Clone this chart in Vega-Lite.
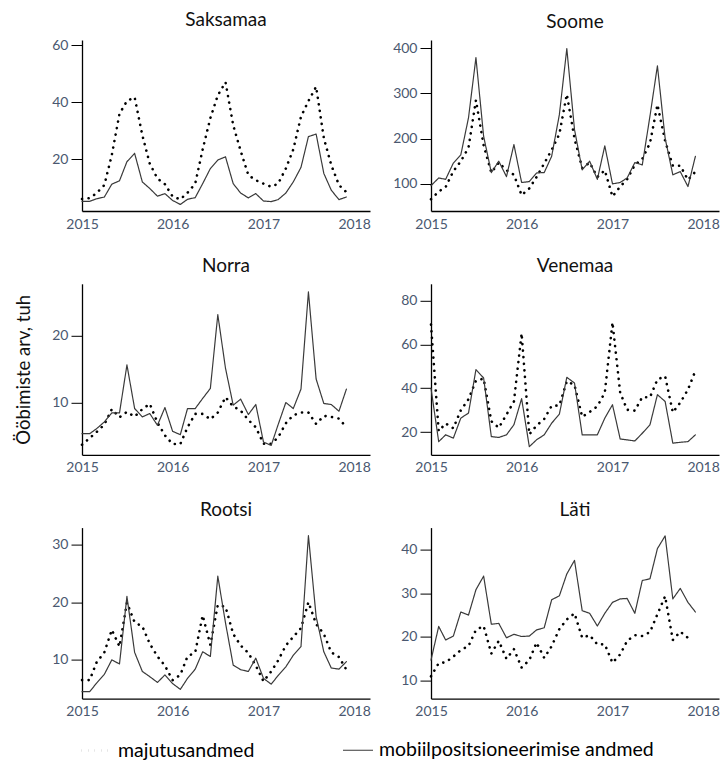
{
"$schema": "https://vega.github.io/schema/vega-lite/v6.json",
"padding": {"left": 14, "top": 11, "right": 0, "bottom": 0},
"bounds": "flush",
"columns": 2,
"spacing": {"row": 72.8, "column": 61},
"config": {
  "font": "Lato",
  "view": {"stroke": null},
  "title": {"fontSize": 19, "fontWeight": "normal", "color": "#111111", "offset": 8, "frame": "group", "anchor": "middle"},
  "axis": {"labelFont": "Lato", "labelFontSize": 14, "labelColor": "#4a5870", "domainColor": "#000000", "domainWidth": 1.3, "tickColor": "#000000", "tickWidth": 1, "grid": false, "titleFont": "Lato", "titleFontWeight": "normal", "titleColor": "#111111", "titleFontSize": 18.5},
  "axisX": {"ticks": false, "labelPadding": 6, "labelFlush": false},
  "axisY": {"tickSize": 11, "labelPadding": 3},
  "legend": {"orient": "bottom", "direction": "horizontal", "symbolType": "stroke", "symbolSize": 900, "symbolStrokeWidth": 2.6, "labelFont": "Lato", "labelFontSize": 19.5, "labelColor": "#000000", "labelLimit": 600, "columnPadding": 85, "offset": 15, "title": null, "labelOffset": 5, "layout": {"bottom": {"anchor": "middle", "bounds": "flush"}}}
},
"datasets": {"rows": [
{"p":"Saksamaa","s":"majutusandmed","d":"2015-01-01","v":6.1},{"p":"Saksamaa","s":"majutusandmed","d":"2015-02-01","v":6.4},{"p":"Saksamaa","s":"majutusandmed","d":"2015-03-01","v":8.2},{"p":"Saksamaa","s":"majutusandmed","d":"2015-04-01","v":11.0},{"p":"Saksamaa","s":"majutusandmed","d":"2015-05-01","v":21.5},{"p":"Saksamaa","s":"majutusandmed","d":"2015-06-01","v":36.0},{"p":"Saksamaa","s":"majutusandmed","d":"2015-07-01","v":40.5},{"p":"Saksamaa","s":"majutusandmed","d":"2015-08-01","v":41.8},{"p":"Saksamaa","s":"majutusandmed","d":"2015-09-01","v":28.5},{"p":"Saksamaa","s":"majutusandmed","d":"2015-10-01","v":18.5},{"p":"Saksamaa","s":"majutusandmed","d":"2015-11-01","v":13.3},{"p":"Saksamaa","s":"majutusandmed","d":"2015-12-01","v":11.3},
{"p":"Saksamaa","s":"majutusandmed","d":"2016-01-01","v":7.0},{"p":"Saksamaa","s":"majutusandmed","d":"2016-02-01","v":6.0},{"p":"Saksamaa","s":"majutusandmed","d":"2016-03-01","v":8.3},{"p":"Saksamaa","s":"majutusandmed","d":"2016-04-01","v":11.5},{"p":"Saksamaa","s":"majutusandmed","d":"2016-05-01","v":23.5},{"p":"Saksamaa","s":"majutusandmed","d":"2016-06-01","v":34.5},{"p":"Saksamaa","s":"majutusandmed","d":"2016-07-01","v":42.5},{"p":"Saksamaa","s":"majutusandmed","d":"2016-08-01","v":47.1},{"p":"Saksamaa","s":"majutusandmed","d":"2016-09-01","v":32.0},{"p":"Saksamaa","s":"majutusandmed","d":"2016-10-01","v":23.0},{"p":"Saksamaa","s":"majutusandmed","d":"2016-11-01","v":14.5},{"p":"Saksamaa","s":"majutusandmed","d":"2016-12-01","v":12.7},
{"p":"Saksamaa","s":"majutusandmed","d":"2017-01-01","v":11.5},{"p":"Saksamaa","s":"majutusandmed","d":"2017-02-01","v":10.4},{"p":"Saksamaa","s":"majutusandmed","d":"2017-03-01","v":11.5},{"p":"Saksamaa","s":"majutusandmed","d":"2017-04-01","v":16.8},{"p":"Saksamaa","s":"majutusandmed","d":"2017-05-01","v":23.5},{"p":"Saksamaa","s":"majutusandmed","d":"2017-06-01","v":35.0},{"p":"Saksamaa","s":"majutusandmed","d":"2017-07-01","v":40.5},{"p":"Saksamaa","s":"majutusandmed","d":"2017-08-01","v":45.5},{"p":"Saksamaa","s":"majutusandmed","d":"2017-09-01","v":27.5},{"p":"Saksamaa","s":"majutusandmed","d":"2017-10-01","v":18.0},{"p":"Saksamaa","s":"majutusandmed","d":"2017-11-01","v":11.0},{"p":"Saksamaa","s":"majutusandmed","d":"2017-12-01","v":8.5},
{"p":"Saksamaa","s":"mobiilpositsioneerimise andmed","d":"2015-01-01","v":5.3},{"p":"Saksamaa","s":"mobiilpositsioneerimise andmed","d":"2015-02-01","v":5.3},{"p":"Saksamaa","s":"mobiilpositsioneerimise andmed","d":"2015-03-01","v":6.2},{"p":"Saksamaa","s":"mobiilpositsioneerimise andmed","d":"2015-04-01","v":6.8},{"p":"Saksamaa","s":"mobiilpositsioneerimise andmed","d":"2015-05-01","v":11.3},{"p":"Saksamaa","s":"mobiilpositsioneerimise andmed","d":"2015-06-01","v":12.5},{"p":"Saksamaa","s":"mobiilpositsioneerimise andmed","d":"2015-07-01","v":19.2},{"p":"Saksamaa","s":"mobiilpositsioneerimise andmed","d":"2015-08-01","v":22.1},{"p":"Saksamaa","s":"mobiilpositsioneerimise andmed","d":"2015-09-01","v":12.1},{"p":"Saksamaa","s":"mobiilpositsioneerimise andmed","d":"2015-10-01","v":9.8},{"p":"Saksamaa","s":"mobiilpositsioneerimise andmed","d":"2015-11-01","v":7.1},{"p":"Saksamaa","s":"mobiilpositsioneerimise andmed","d":"2015-12-01","v":8.0},
{"p":"Saksamaa","s":"mobiilpositsioneerimise andmed","d":"2016-01-01","v":5.6},{"p":"Saksamaa","s":"mobiilpositsioneerimise andmed","d":"2016-02-01","v":4.2},{"p":"Saksamaa","s":"mobiilpositsioneerimise andmed","d":"2016-03-01","v":6.0},{"p":"Saksamaa","s":"mobiilpositsioneerimise andmed","d":"2016-04-01","v":6.6},{"p":"Saksamaa","s":"mobiilpositsioneerimise andmed","d":"2016-05-01","v":11.5},{"p":"Saksamaa","s":"mobiilpositsioneerimise andmed","d":"2016-06-01","v":16.8},{"p":"Saksamaa","s":"mobiilpositsioneerimise andmed","d":"2016-07-01","v":19.8},{"p":"Saksamaa","s":"mobiilpositsioneerimise andmed","d":"2016-08-01","v":20.9},{"p":"Saksamaa","s":"mobiilpositsioneerimise andmed","d":"2016-09-01","v":11.5},{"p":"Saksamaa","s":"mobiilpositsioneerimise andmed","d":"2016-10-01","v":8.2},{"p":"Saksamaa","s":"mobiilpositsioneerimise andmed","d":"2016-11-01","v":6.5},{"p":"Saksamaa","s":"mobiilpositsioneerimise andmed","d":"2016-12-01","v":8.0},
{"p":"Saksamaa","s":"mobiilpositsioneerimise andmed","d":"2017-01-01","v":5.4},{"p":"Saksamaa","s":"mobiilpositsioneerimise andmed","d":"2017-02-01","v":5.2},{"p":"Saksamaa","s":"mobiilpositsioneerimise andmed","d":"2017-03-01","v":5.9},{"p":"Saksamaa","s":"mobiilpositsioneerimise andmed","d":"2017-04-01","v":8.2},{"p":"Saksamaa","s":"mobiilpositsioneerimise andmed","d":"2017-05-01","v":12.1},{"p":"Saksamaa","s":"mobiilpositsioneerimise andmed","d":"2017-06-01","v":17.2},{"p":"Saksamaa","s":"mobiilpositsioneerimise andmed","d":"2017-07-01","v":28.0},{"p":"Saksamaa","s":"mobiilpositsioneerimise andmed","d":"2017-08-01","v":28.9},{"p":"Saksamaa","s":"mobiilpositsioneerimise andmed","d":"2017-09-01","v":15.1},{"p":"Saksamaa","s":"mobiilpositsioneerimise andmed","d":"2017-10-01","v":9.2},{"p":"Saksamaa","s":"mobiilpositsioneerimise andmed","d":"2017-11-01","v":5.9},{"p":"Saksamaa","s":"mobiilpositsioneerimise andmed","d":"2017-12-01","v":6.8},
{"p":"Soome","s":"majutusandmed","d":"2015-01-01","v":66},{"p":"Soome","s":"majutusandmed","d":"2015-02-01","v":83},{"p":"Soome","s":"majutusandmed","d":"2015-03-01","v":93},{"p":"Soome","s":"majutusandmed","d":"2015-04-01","v":128},{"p":"Soome","s":"majutusandmed","d":"2015-05-01","v":150},{"p":"Soome","s":"majutusandmed","d":"2015-06-01","v":180},{"p":"Soome","s":"majutusandmed","d":"2015-07-01","v":285},{"p":"Soome","s":"majutusandmed","d":"2015-08-01","v":185},{"p":"Soome","s":"majutusandmed","d":"2015-09-01","v":125},{"p":"Soome","s":"majutusandmed","d":"2015-10-01","v":147},{"p":"Soome","s":"majutusandmed","d":"2015-11-01","v":130},{"p":"Soome","s":"majutusandmed","d":"2015-12-01","v":120},
{"p":"Soome","s":"majutusandmed","d":"2016-01-01","v":75},{"p":"Soome","s":"majutusandmed","d":"2016-02-01","v":90},{"p":"Soome","s":"majutusandmed","d":"2016-03-01","v":115},{"p":"Soome","s":"majutusandmed","d":"2016-04-01","v":145},{"p":"Soome","s":"majutusandmed","d":"2016-05-01","v":175},{"p":"Soome","s":"majutusandmed","d":"2016-06-01","v":210},{"p":"Soome","s":"majutusandmed","d":"2016-07-01","v":298},{"p":"Soome","s":"majutusandmed","d":"2016-08-01","v":200},{"p":"Soome","s":"majutusandmed","d":"2016-09-01","v":135},{"p":"Soome","s":"majutusandmed","d":"2016-10-01","v":147},{"p":"Soome","s":"majutusandmed","d":"2016-11-01","v":115},{"p":"Soome","s":"majutusandmed","d":"2016-12-01","v":130},
{"p":"Soome","s":"majutusandmed","d":"2017-01-01","v":72},{"p":"Soome","s":"majutusandmed","d":"2017-02-01","v":94},{"p":"Soome","s":"majutusandmed","d":"2017-03-01","v":110},{"p":"Soome","s":"majutusandmed","d":"2017-04-01","v":142},{"p":"Soome","s":"majutusandmed","d":"2017-05-01","v":155},{"p":"Soome","s":"majutusandmed","d":"2017-06-01","v":190},{"p":"Soome","s":"majutusandmed","d":"2017-07-01","v":275},{"p":"Soome","s":"majutusandmed","d":"2017-08-01","v":195},{"p":"Soome","s":"majutusandmed","d":"2017-09-01","v":140},{"p":"Soome","s":"majutusandmed","d":"2017-10-01","v":140},{"p":"Soome","s":"majutusandmed","d":"2017-11-01","v":109},{"p":"Soome","s":"majutusandmed","d":"2017-12-01","v":127},
{"p":"Soome","s":"mobiilpositsioneerimise andmed","d":"2015-01-01","v":96},{"p":"Soome","s":"mobiilpositsioneerimise andmed","d":"2015-02-01","v":113},{"p":"Soome","s":"mobiilpositsioneerimise andmed","d":"2015-03-01","v":110},{"p":"Soome","s":"mobiilpositsioneerimise andmed","d":"2015-04-01","v":146},{"p":"Soome","s":"mobiilpositsioneerimise andmed","d":"2015-05-01","v":164},{"p":"Soome","s":"mobiilpositsioneerimise andmed","d":"2015-06-01","v":246},{"p":"Soome","s":"mobiilpositsioneerimise andmed","d":"2015-07-01","v":379},{"p":"Soome","s":"mobiilpositsioneerimise andmed","d":"2015-08-01","v":205},{"p":"Soome","s":"mobiilpositsioneerimise andmed","d":"2015-09-01","v":125},{"p":"Soome","s":"mobiilpositsioneerimise andmed","d":"2015-10-01","v":150},{"p":"Soome","s":"mobiilpositsioneerimise andmed","d":"2015-11-01","v":116},{"p":"Soome","s":"mobiilpositsioneerimise andmed","d":"2015-12-01","v":187},
{"p":"Soome","s":"mobiilpositsioneerimise andmed","d":"2016-01-01","v":103},{"p":"Soome","s":"mobiilpositsioneerimise andmed","d":"2016-02-01","v":105},{"p":"Soome","s":"mobiilpositsioneerimise andmed","d":"2016-03-01","v":124},{"p":"Soome","s":"mobiilpositsioneerimise andmed","d":"2016-04-01","v":125},{"p":"Soome","s":"mobiilpositsioneerimise andmed","d":"2016-05-01","v":161},{"p":"Soome","s":"mobiilpositsioneerimise andmed","d":"2016-06-01","v":253},{"p":"Soome","s":"mobiilpositsioneerimise andmed","d":"2016-07-01","v":399},{"p":"Soome","s":"mobiilpositsioneerimise andmed","d":"2016-08-01","v":220},{"p":"Soome","s":"mobiilpositsioneerimise andmed","d":"2016-09-01","v":131},{"p":"Soome","s":"mobiilpositsioneerimise andmed","d":"2016-10-01","v":150},{"p":"Soome","s":"mobiilpositsioneerimise andmed","d":"2016-11-01","v":110},{"p":"Soome","s":"mobiilpositsioneerimise andmed","d":"2016-12-01","v":184},
{"p":"Soome","s":"mobiilpositsioneerimise andmed","d":"2017-01-01","v":100},{"p":"Soome","s":"mobiilpositsioneerimise andmed","d":"2017-02-01","v":103},{"p":"Soome","s":"mobiilpositsioneerimise andmed","d":"2017-03-01","v":113},{"p":"Soome","s":"mobiilpositsioneerimise andmed","d":"2017-04-01","v":147},{"p":"Soome","s":"mobiilpositsioneerimise andmed","d":"2017-05-01","v":142},{"p":"Soome","s":"mobiilpositsioneerimise andmed","d":"2017-06-01","v":250},{"p":"Soome","s":"mobiilpositsioneerimise andmed","d":"2017-07-01","v":361},{"p":"Soome","s":"mobiilpositsioneerimise andmed","d":"2017-08-01","v":201},{"p":"Soome","s":"mobiilpositsioneerimise andmed","d":"2017-09-01","v":120},{"p":"Soome","s":"mobiilpositsioneerimise andmed","d":"2017-10-01","v":127},{"p":"Soome","s":"mobiilpositsioneerimise andmed","d":"2017-11-01","v":94},{"p":"Soome","s":"mobiilpositsioneerimise andmed","d":"2017-12-01","v":161},
{"p":"Norra","s":"majutusandmed","d":"2015-01-01","v":3.7},{"p":"Norra","s":"majutusandmed","d":"2015-02-01","v":4.7},{"p":"Norra","s":"majutusandmed","d":"2015-03-01","v":5.6},{"p":"Norra","s":"majutusandmed","d":"2015-04-01","v":6.7},{"p":"Norra","s":"majutusandmed","d":"2015-05-01","v":9.0},{"p":"Norra","s":"majutusandmed","d":"2015-06-01","v":7.8},{"p":"Norra","s":"majutusandmed","d":"2015-07-01","v":8.6},{"p":"Norra","s":"majutusandmed","d":"2015-08-01","v":7.9},{"p":"Norra","s":"majutusandmed","d":"2015-09-01","v":9.0},{"p":"Norra","s":"majutusandmed","d":"2015-10-01","v":9.8},{"p":"Norra","s":"majutusandmed","d":"2015-11-01","v":7.0},{"p":"Norra","s":"majutusandmed","d":"2015-12-01","v":5.1},
{"p":"Norra","s":"majutusandmed","d":"2016-01-01","v":3.8},{"p":"Norra","s":"majutusandmed","d":"2016-02-01","v":3.8},{"p":"Norra","s":"majutusandmed","d":"2016-03-01","v":6.3},{"p":"Norra","s":"majutusandmed","d":"2016-04-01","v":8.3},{"p":"Norra","s":"majutusandmed","d":"2016-05-01","v":8.3},{"p":"Norra","s":"majutusandmed","d":"2016-06-01","v":7.5},{"p":"Norra","s":"majutusandmed","d":"2016-07-01","v":8.5},{"p":"Norra","s":"majutusandmed","d":"2016-08-01","v":10.8},{"p":"Norra","s":"majutusandmed","d":"2016-09-01","v":9.4},{"p":"Norra","s":"majutusandmed","d":"2016-10-01","v":8.8},{"p":"Norra","s":"majutusandmed","d":"2016-11-01","v":7.4},{"p":"Norra","s":"majutusandmed","d":"2016-12-01","v":6.3},
{"p":"Norra","s":"majutusandmed","d":"2017-01-01","v":3.85},{"p":"Norra","s":"majutusandmed","d":"2017-02-01","v":3.85},{"p":"Norra","s":"majutusandmed","d":"2017-03-01","v":4.8},{"p":"Norra","s":"majutusandmed","d":"2017-04-01","v":6.9},{"p":"Norra","s":"majutusandmed","d":"2017-05-01","v":8.1},{"p":"Norra","s":"majutusandmed","d":"2017-06-01","v":8.5},{"p":"Norra","s":"majutusandmed","d":"2017-07-01","v":8.5},{"p":"Norra","s":"majutusandmed","d":"2017-08-01","v":6.8},{"p":"Norra","s":"majutusandmed","d":"2017-09-01","v":8.0},{"p":"Norra","s":"majutusandmed","d":"2017-10-01","v":7.85},{"p":"Norra","s":"majutusandmed","d":"2017-11-01","v":7.6},{"p":"Norra","s":"majutusandmed","d":"2017-12-01","v":6.3},
{"p":"Norra","s":"mobiilpositsioneerimise andmed","d":"2015-01-01","v":5.35},{"p":"Norra","s":"mobiilpositsioneerimise andmed","d":"2015-02-01","v":5.35},{"p":"Norra","s":"mobiilpositsioneerimise andmed","d":"2015-03-01","v":6.1},{"p":"Norra","s":"mobiilpositsioneerimise andmed","d":"2015-04-01","v":7.1},{"p":"Norra","s":"mobiilpositsioneerimise andmed","d":"2015-05-01","v":8.45},{"p":"Norra","s":"mobiilpositsioneerimise andmed","d":"2015-06-01","v":8.45},{"p":"Norra","s":"mobiilpositsioneerimise andmed","d":"2015-07-01","v":15.6},{"p":"Norra","s":"mobiilpositsioneerimise andmed","d":"2015-08-01","v":9.1},{"p":"Norra","s":"mobiilpositsioneerimise andmed","d":"2015-09-01","v":7.85},{"p":"Norra","s":"mobiilpositsioneerimise andmed","d":"2015-10-01","v":8.35},{"p":"Norra","s":"mobiilpositsioneerimise andmed","d":"2015-11-01","v":6.6},{"p":"Norra","s":"mobiilpositsioneerimise andmed","d":"2015-12-01","v":9.25},
{"p":"Norra","s":"mobiilpositsioneerimise andmed","d":"2016-01-01","v":5.7},{"p":"Norra","s":"mobiilpositsioneerimise andmed","d":"2016-02-01","v":5.2},{"p":"Norra","s":"mobiilpositsioneerimise andmed","d":"2016-03-01","v":9.1},{"p":"Norra","s":"mobiilpositsioneerimise andmed","d":"2016-04-01","v":9.1},{"p":"Norra","s":"mobiilpositsioneerimise andmed","d":"2016-05-01","v":10.6},{"p":"Norra","s":"mobiilpositsioneerimise andmed","d":"2016-06-01","v":12.1},{"p":"Norra","s":"mobiilpositsioneerimise andmed","d":"2016-07-01","v":23.1},{"p":"Norra","s":"mobiilpositsioneerimise andmed","d":"2016-08-01","v":15.1},{"p":"Norra","s":"mobiilpositsioneerimise andmed","d":"2016-09-01","v":9.6},{"p":"Norra","s":"mobiilpositsioneerimise andmed","d":"2016-10-01","v":10.5},{"p":"Norra","s":"mobiilpositsioneerimise andmed","d":"2016-11-01","v":8.2},{"p":"Norra","s":"mobiilpositsioneerimise andmed","d":"2016-12-01","v":9.7},
{"p":"Norra","s":"mobiilpositsioneerimise andmed","d":"2017-01-01","v":4.1},{"p":"Norra","s":"mobiilpositsioneerimise andmed","d":"2017-02-01","v":3.6},{"p":"Norra","s":"mobiilpositsioneerimise andmed","d":"2017-03-01","v":6.7},{"p":"Norra","s":"mobiilpositsioneerimise andmed","d":"2017-04-01","v":10.0},{"p":"Norra","s":"mobiilpositsioneerimise andmed","d":"2017-05-01","v":9.1},{"p":"Norra","s":"mobiilpositsioneerimise andmed","d":"2017-06-01","v":12.0},{"p":"Norra","s":"mobiilpositsioneerimise andmed","d":"2017-07-01","v":26.5},{"p":"Norra","s":"mobiilpositsioneerimise andmed","d":"2017-08-01","v":13.5},{"p":"Norra","s":"mobiilpositsioneerimise andmed","d":"2017-09-01","v":9.85},{"p":"Norra","s":"mobiilpositsioneerimise andmed","d":"2017-10-01","v":9.7},{"p":"Norra","s":"mobiilpositsioneerimise andmed","d":"2017-11-01","v":8.7},{"p":"Norra","s":"mobiilpositsioneerimise andmed","d":"2017-12-01","v":12.0},
{"p":"Venemaa","s":"majutusandmed","d":"2015-01-01","v":69},{"p":"Venemaa","s":"majutusandmed","d":"2015-02-01","v":20.5},{"p":"Venemaa","s":"majutusandmed","d":"2015-03-01","v":24},{"p":"Venemaa","s":"majutusandmed","d":"2015-04-01","v":21.8},{"p":"Venemaa","s":"majutusandmed","d":"2015-05-01","v":30},{"p":"Venemaa","s":"majutusandmed","d":"2015-06-01","v":35},{"p":"Venemaa","s":"majutusandmed","d":"2015-07-01","v":43.5},{"p":"Venemaa","s":"majutusandmed","d":"2015-08-01","v":44.4},{"p":"Venemaa","s":"majutusandmed","d":"2015-09-01","v":25},{"p":"Venemaa","s":"majutusandmed","d":"2015-10-01","v":22},{"p":"Venemaa","s":"majutusandmed","d":"2015-11-01","v":28},{"p":"Venemaa","s":"majutusandmed","d":"2015-12-01","v":34},
{"p":"Venemaa","s":"majutusandmed","d":"2016-01-01","v":65},{"p":"Venemaa","s":"majutusandmed","d":"2016-02-01","v":19},{"p":"Venemaa","s":"majutusandmed","d":"2016-03-01","v":23},{"p":"Venemaa","s":"majutusandmed","d":"2016-04-01","v":26},{"p":"Venemaa","s":"majutusandmed","d":"2016-05-01","v":32},{"p":"Venemaa","s":"majutusandmed","d":"2016-06-01","v":32.2},{"p":"Venemaa","s":"majutusandmed","d":"2016-07-01","v":43.2},{"p":"Venemaa","s":"majutusandmed","d":"2016-08-01","v":41.5},{"p":"Venemaa","s":"majutusandmed","d":"2016-09-01","v":27},{"p":"Venemaa","s":"majutusandmed","d":"2016-10-01","v":29.2},{"p":"Venemaa","s":"majutusandmed","d":"2016-11-01","v":31.8},{"p":"Venemaa","s":"majutusandmed","d":"2016-12-01","v":38},
{"p":"Venemaa","s":"majutusandmed","d":"2017-01-01","v":70},{"p":"Venemaa","s":"majutusandmed","d":"2017-02-01","v":38},{"p":"Venemaa","s":"majutusandmed","d":"2017-03-01","v":30.2},{"p":"Venemaa","s":"majutusandmed","d":"2017-04-01","v":29.8},{"p":"Venemaa","s":"majutusandmed","d":"2017-05-01","v":36},{"p":"Venemaa","s":"majutusandmed","d":"2017-06-01","v":35.9},{"p":"Venemaa","s":"majutusandmed","d":"2017-07-01","v":44},{"p":"Venemaa","s":"majutusandmed","d":"2017-08-01","v":45.5},{"p":"Venemaa","s":"majutusandmed","d":"2017-09-01","v":29},{"p":"Venemaa","s":"majutusandmed","d":"2017-10-01","v":33.5},{"p":"Venemaa","s":"majutusandmed","d":"2017-11-01","v":39.4},{"p":"Venemaa","s":"majutusandmed","d":"2017-12-01","v":48},
{"p":"Venemaa","s":"mobiilpositsioneerimise andmed","d":"2015-01-01","v":40},{"p":"Venemaa","s":"mobiilpositsioneerimise andmed","d":"2015-02-01","v":15.7},{"p":"Venemaa","s":"mobiilpositsioneerimise andmed","d":"2015-03-01","v":18.8},{"p":"Venemaa","s":"mobiilpositsioneerimise andmed","d":"2015-04-01","v":17.3},{"p":"Venemaa","s":"mobiilpositsioneerimise andmed","d":"2015-05-01","v":26.4},{"p":"Venemaa","s":"mobiilpositsioneerimise andmed","d":"2015-06-01","v":28.7},{"p":"Venemaa","s":"mobiilpositsioneerimise andmed","d":"2015-07-01","v":48.5},{"p":"Venemaa","s":"mobiilpositsioneerimise andmed","d":"2015-08-01","v":44.7},{"p":"Venemaa","s":"mobiilpositsioneerimise andmed","d":"2015-09-01","v":18.0},{"p":"Venemaa","s":"mobiilpositsioneerimise andmed","d":"2015-10-01","v":17.6},{"p":"Venemaa","s":"mobiilpositsioneerimise andmed","d":"2015-11-01","v":18.8},{"p":"Venemaa","s":"mobiilpositsioneerimise andmed","d":"2015-12-01","v":23.4},
{"p":"Venemaa","s":"mobiilpositsioneerimise andmed","d":"2016-01-01","v":35.3},{"p":"Venemaa","s":"mobiilpositsioneerimise andmed","d":"2016-02-01","v":13.4},{"p":"Venemaa","s":"mobiilpositsioneerimise andmed","d":"2016-03-01","v":16.5},{"p":"Venemaa","s":"mobiilpositsioneerimise andmed","d":"2016-04-01","v":18.8},{"p":"Venemaa","s":"mobiilpositsioneerimise andmed","d":"2016-05-01","v":24.1},{"p":"Venemaa","s":"mobiilpositsioneerimise andmed","d":"2016-06-01","v":28.2},{"p":"Venemaa","s":"mobiilpositsioneerimise andmed","d":"2016-07-01","v":45.0},{"p":"Venemaa","s":"mobiilpositsioneerimise andmed","d":"2016-08-01","v":42.4},{"p":"Venemaa","s":"mobiilpositsioneerimise andmed","d":"2016-09-01","v":18.8},{"p":"Venemaa","s":"mobiilpositsioneerimise andmed","d":"2016-10-01","v":18.8},{"p":"Venemaa","s":"mobiilpositsioneerimise andmed","d":"2016-11-01","v":18.8},{"p":"Venemaa","s":"mobiilpositsioneerimise andmed","d":"2016-12-01","v":26.4},
{"p":"Venemaa","s":"mobiilpositsioneerimise andmed","d":"2017-01-01","v":32.5},{"p":"Venemaa","s":"mobiilpositsioneerimise andmed","d":"2017-02-01","v":16.9},{"p":"Venemaa","s":"mobiilpositsioneerimise andmed","d":"2017-03-01","v":16.5},{"p":"Venemaa","s":"mobiilpositsioneerimise andmed","d":"2017-04-01","v":16.0},{"p":"Venemaa","s":"mobiilpositsioneerimise andmed","d":"2017-05-01","v":19.5},{"p":"Venemaa","s":"mobiilpositsioneerimise andmed","d":"2017-06-01","v":23.4},{"p":"Venemaa","s":"mobiilpositsioneerimise andmed","d":"2017-07-01","v":37.1},{"p":"Venemaa","s":"mobiilpositsioneerimise andmed","d":"2017-08-01","v":34.0},{"p":"Venemaa","s":"mobiilpositsioneerimise andmed","d":"2017-09-01","v":15.0},{"p":"Venemaa","s":"mobiilpositsioneerimise andmed","d":"2017-10-01","v":15.4},{"p":"Venemaa","s":"mobiilpositsioneerimise andmed","d":"2017-11-01","v":15.7},{"p":"Venemaa","s":"mobiilpositsioneerimise andmed","d":"2017-12-01","v":18.8},
{"p":"Rootsi","s":"majutusandmed","d":"2015-01-01","v":6.5},{"p":"Rootsi","s":"majutusandmed","d":"2015-02-01","v":6.5},{"p":"Rootsi","s":"majutusandmed","d":"2015-03-01","v":9.6},{"p":"Rootsi","s":"majutusandmed","d":"2015-04-01","v":11.3},{"p":"Rootsi","s":"majutusandmed","d":"2015-05-01","v":15.2},{"p":"Rootsi","s":"majutusandmed","d":"2015-06-01","v":12.3},{"p":"Rootsi","s":"majutusandmed","d":"2015-07-01","v":19.9},{"p":"Rootsi","s":"majutusandmed","d":"2015-08-01","v":16.5},{"p":"Rootsi","s":"majutusandmed","d":"2015-09-01","v":15.8},{"p":"Rootsi","s":"majutusandmed","d":"2015-10-01","v":12.8},{"p":"Rootsi","s":"majutusandmed","d":"2015-11-01","v":10.6},{"p":"Rootsi","s":"majutusandmed","d":"2015-12-01","v":9.0},
{"p":"Rootsi","s":"majutusandmed","d":"2016-01-01","v":6.5},{"p":"Rootsi","s":"majutusandmed","d":"2016-02-01","v":7.4},{"p":"Rootsi","s":"majutusandmed","d":"2016-03-01","v":10.6},{"p":"Rootsi","s":"majutusandmed","d":"2016-04-01","v":11.3},{"p":"Rootsi","s":"majutusandmed","d":"2016-05-01","v":17.7},{"p":"Rootsi","s":"majutusandmed","d":"2016-06-01","v":12.6},{"p":"Rootsi","s":"majutusandmed","d":"2016-07-01","v":19.5},{"p":"Rootsi","s":"majutusandmed","d":"2016-08-01","v":19.2},{"p":"Rootsi","s":"majutusandmed","d":"2016-09-01","v":14.5},{"p":"Rootsi","s":"majutusandmed","d":"2016-10-01","v":12.5},{"p":"Rootsi","s":"majutusandmed","d":"2016-11-01","v":11.2},{"p":"Rootsi","s":"majutusandmed","d":"2016-12-01","v":9.0},
{"p":"Rootsi","s":"majutusandmed","d":"2017-01-01","v":6.3},{"p":"Rootsi","s":"majutusandmed","d":"2017-02-01","v":8.0},{"p":"Rootsi","s":"majutusandmed","d":"2017-03-01","v":9.9},{"p":"Rootsi","s":"majutusandmed","d":"2017-04-01","v":12.5},{"p":"Rootsi","s":"majutusandmed","d":"2017-05-01","v":14.0},{"p":"Rootsi","s":"majutusandmed","d":"2017-06-01","v":15.5},{"p":"Rootsi","s":"majutusandmed","d":"2017-07-01","v":20.0},{"p":"Rootsi","s":"majutusandmed","d":"2017-08-01","v":16.2},{"p":"Rootsi","s":"majutusandmed","d":"2017-09-01","v":14.5},{"p":"Rootsi","s":"majutusandmed","d":"2017-10-01","v":11.3},{"p":"Rootsi","s":"majutusandmed","d":"2017-11-01","v":10.5},{"p":"Rootsi","s":"majutusandmed","d":"2017-12-01","v":8.3},
{"p":"Rootsi","s":"mobiilpositsioneerimise andmed","d":"2015-01-01","v":4.5},{"p":"Rootsi","s":"mobiilpositsioneerimise andmed","d":"2015-02-01","v":4.5},{"p":"Rootsi","s":"mobiilpositsioneerimise andmed","d":"2015-03-01","v":6.0},{"p":"Rootsi","s":"mobiilpositsioneerimise andmed","d":"2015-04-01","v":7.5},{"p":"Rootsi","s":"mobiilpositsioneerimise andmed","d":"2015-05-01","v":10.0},{"p":"Rootsi","s":"mobiilpositsioneerimise andmed","d":"2015-06-01","v":9.3},{"p":"Rootsi","s":"mobiilpositsioneerimise andmed","d":"2015-07-01","v":21.0},{"p":"Rootsi","s":"mobiilpositsioneerimise andmed","d":"2015-08-01","v":11.3},{"p":"Rootsi","s":"mobiilpositsioneerimise andmed","d":"2015-09-01","v":8.0},{"p":"Rootsi","s":"mobiilpositsioneerimise andmed","d":"2015-10-01","v":7.1},{"p":"Rootsi","s":"mobiilpositsioneerimise andmed","d":"2015-11-01","v":6.1},{"p":"Rootsi","s":"mobiilpositsioneerimise andmed","d":"2015-12-01","v":7.4},
{"p":"Rootsi","s":"mobiilpositsioneerimise andmed","d":"2016-01-01","v":5.9},{"p":"Rootsi","s":"mobiilpositsioneerimise andmed","d":"2016-02-01","v":4.9},{"p":"Rootsi","s":"mobiilpositsioneerimise andmed","d":"2016-03-01","v":6.8},{"p":"Rootsi","s":"mobiilpositsioneerimise andmed","d":"2016-04-01","v":8.4},{"p":"Rootsi","s":"mobiilpositsioneerimise andmed","d":"2016-05-01","v":11.4},{"p":"Rootsi","s":"mobiilpositsioneerimise andmed","d":"2016-06-01","v":10.6},{"p":"Rootsi","s":"mobiilpositsioneerimise andmed","d":"2016-07-01","v":24.5},{"p":"Rootsi","s":"mobiilpositsioneerimise andmed","d":"2016-08-01","v":16.4},{"p":"Rootsi","s":"mobiilpositsioneerimise andmed","d":"2016-09-01","v":9.1},{"p":"Rootsi","s":"mobiilpositsioneerimise andmed","d":"2016-10-01","v":8.3},{"p":"Rootsi","s":"mobiilpositsioneerimise andmed","d":"2016-11-01","v":8.0},{"p":"Rootsi","s":"mobiilpositsioneerimise andmed","d":"2016-12-01","v":10.3},
{"p":"Rootsi","s":"mobiilpositsioneerimise andmed","d":"2017-01-01","v":6.8},{"p":"Rootsi","s":"mobiilpositsioneerimise andmed","d":"2017-02-01","v":5.8},{"p":"Rootsi","s":"mobiilpositsioneerimise andmed","d":"2017-03-01","v":7.3},{"p":"Rootsi","s":"mobiilpositsioneerimise andmed","d":"2017-04-01","v":8.8},{"p":"Rootsi","s":"mobiilpositsioneerimise andmed","d":"2017-05-01","v":10.8},{"p":"Rootsi","s":"mobiilpositsioneerimise andmed","d":"2017-06-01","v":12.3},{"p":"Rootsi","s":"mobiilpositsioneerimise andmed","d":"2017-07-01","v":31.5},{"p":"Rootsi","s":"mobiilpositsioneerimise andmed","d":"2017-08-01","v":17.5},{"p":"Rootsi","s":"mobiilpositsioneerimise andmed","d":"2017-09-01","v":11.4},{"p":"Rootsi","s":"mobiilpositsioneerimise andmed","d":"2017-10-01","v":8.6},{"p":"Rootsi","s":"mobiilpositsioneerimise andmed","d":"2017-11-01","v":8.4},{"p":"Rootsi","s":"mobiilpositsioneerimise andmed","d":"2017-12-01","v":9.7},
{"p":"Läti","s":"majutusandmed","d":"2015-01-01","v":11},{"p":"Läti","s":"majutusandmed","d":"2015-02-01","v":14},{"p":"Läti","s":"majutusandmed","d":"2015-03-01","v":14.2},{"p":"Läti","s":"majutusandmed","d":"2015-04-01","v":15.5},{"p":"Läti","s":"majutusandmed","d":"2015-05-01","v":17},{"p":"Läti","s":"majutusandmed","d":"2015-06-01","v":17.9},{"p":"Läti","s":"majutusandmed","d":"2015-07-01","v":21.6},{"p":"Läti","s":"majutusandmed","d":"2015-08-01","v":22.5},{"p":"Läti","s":"majutusandmed","d":"2015-09-01","v":16.2},{"p":"Läti","s":"majutusandmed","d":"2015-10-01","v":19.1},{"p":"Läti","s":"majutusandmed","d":"2015-11-01","v":15},{"p":"Läti","s":"majutusandmed","d":"2015-12-01","v":17.2},
{"p":"Läti","s":"majutusandmed","d":"2016-01-01","v":13},{"p":"Läti","s":"majutusandmed","d":"2016-02-01","v":14.7},{"p":"Läti","s":"majutusandmed","d":"2016-03-01","v":18.7},{"p":"Läti","s":"majutusandmed","d":"2016-04-01","v":15.2},{"p":"Läti","s":"majutusandmed","d":"2016-05-01","v":17.9},{"p":"Läti","s":"majutusandmed","d":"2016-06-01","v":21.8},{"p":"Läti","s":"majutusandmed","d":"2016-07-01","v":24},{"p":"Läti","s":"majutusandmed","d":"2016-08-01","v":25.4},{"p":"Läti","s":"majutusandmed","d":"2016-09-01","v":19.8},{"p":"Läti","s":"majutusandmed","d":"2016-10-01","v":20.4},{"p":"Läti","s":"majutusandmed","d":"2016-11-01","v":18.3},{"p":"Läti","s":"majutusandmed","d":"2016-12-01","v":18.3},
{"p":"Läti","s":"majutusandmed","d":"2017-01-01","v":14.1},{"p":"Läti","s":"majutusandmed","d":"2017-02-01","v":16},{"p":"Läti","s":"majutusandmed","d":"2017-03-01","v":19.1},{"p":"Läti","s":"majutusandmed","d":"2017-04-01","v":20.4},{"p":"Läti","s":"majutusandmed","d":"2017-05-01","v":20.2},{"p":"Läti","s":"majutusandmed","d":"2017-06-01","v":21.1},{"p":"Läti","s":"majutusandmed","d":"2017-07-01","v":25.2},{"p":"Läti","s":"majutusandmed","d":"2017-08-01","v":29.3},{"p":"Läti","s":"majutusandmed","d":"2017-09-01","v":19.3},{"p":"Läti","s":"majutusandmed","d":"2017-10-01","v":21.2},{"p":"Läti","s":"majutusandmed","d":"2017-11-01","v":19.8},
{"p":"Läti","s":"mobiilpositsioneerimise andmed","d":"2015-01-01","v":14.7},{"p":"Läti","s":"mobiilpositsioneerimise andmed","d":"2015-02-01","v":22.4},{"p":"Läti","s":"mobiilpositsioneerimise andmed","d":"2015-03-01","v":19.3},{"p":"Läti","s":"mobiilpositsioneerimise andmed","d":"2015-04-01","v":20.2},{"p":"Läti","s":"mobiilpositsioneerimise andmed","d":"2015-05-01","v":25.7},{"p":"Läti","s":"mobiilpositsioneerimise andmed","d":"2015-06-01","v":25.0},{"p":"Läti","s":"mobiilpositsioneerimise andmed","d":"2015-07-01","v":30.8},{"p":"Läti","s":"mobiilpositsioneerimise andmed","d":"2015-08-01","v":33.9},{"p":"Läti","s":"mobiilpositsioneerimise andmed","d":"2015-09-01","v":22.9},{"p":"Läti","s":"mobiilpositsioneerimise andmed","d":"2015-10-01","v":23.1},{"p":"Läti","s":"mobiilpositsioneerimise andmed","d":"2015-11-01","v":19.8},{"p":"Läti","s":"mobiilpositsioneerimise andmed","d":"2015-12-01","v":20.6},
{"p":"Läti","s":"mobiilpositsioneerimise andmed","d":"2016-01-01","v":20.1},{"p":"Läti","s":"mobiilpositsioneerimise andmed","d":"2016-02-01","v":20.2},{"p":"Läti","s":"mobiilpositsioneerimise andmed","d":"2016-03-01","v":21.6},{"p":"Läti","s":"mobiilpositsioneerimise andmed","d":"2016-04-01","v":22.1},{"p":"Läti","s":"mobiilpositsioneerimise andmed","d":"2016-05-01","v":28.5},{"p":"Läti","s":"mobiilpositsioneerimise andmed","d":"2016-06-01","v":29.4},{"p":"Läti","s":"mobiilpositsioneerimise andmed","d":"2016-07-01","v":34.4},{"p":"Läti","s":"mobiilpositsioneerimise andmed","d":"2016-08-01","v":37.5},{"p":"Läti","s":"mobiilpositsioneerimise andmed","d":"2016-09-01","v":26.0},{"p":"Läti","s":"mobiilpositsioneerimise andmed","d":"2016-10-01","v":25.4},{"p":"Läti","s":"mobiilpositsioneerimise andmed","d":"2016-11-01","v":22.5},{"p":"Läti","s":"mobiilpositsioneerimise andmed","d":"2016-12-01","v":25.4},
{"p":"Läti","s":"mobiilpositsioneerimise andmed","d":"2017-01-01","v":27.9},{"p":"Läti","s":"mobiilpositsioneerimise andmed","d":"2017-02-01","v":28.7},{"p":"Läti","s":"mobiilpositsioneerimise andmed","d":"2017-03-01","v":28.8},{"p":"Läti","s":"mobiilpositsioneerimise andmed","d":"2017-04-01","v":25.4},{"p":"Läti","s":"mobiilpositsioneerimise andmed","d":"2017-05-01","v":32.9},{"p":"Läti","s":"mobiilpositsioneerimise andmed","d":"2017-06-01","v":33.3},{"p":"Läti","s":"mobiilpositsioneerimise andmed","d":"2017-07-01","v":40.2},{"p":"Läti","s":"mobiilpositsioneerimise andmed","d":"2017-08-01","v":43.1},{"p":"Läti","s":"mobiilpositsioneerimise andmed","d":"2017-09-01","v":28.7},{"p":"Läti","s":"mobiilpositsioneerimise andmed","d":"2017-10-01","v":31.1},{"p":"Läti","s":"mobiilpositsioneerimise andmed","d":"2017-11-01","v":27.9},{"p":"Läti","s":"mobiilpositsioneerimise andmed","d":"2017-12-01","v":25.7}
]},
"data": {"name": "rows"},
"concat": [
 {"title": "Saksamaa", "width": 288, "height": 171,
  "transform": [{"filter": {"field": "p", "equal": "Saksamaa"}}],
  "mark": {"type": "line", "strokeCap": "round", "strokeJoin": "round"},
  "encoding": {
   "x": {"field": "d", "type": "temporal", "scale": {"type": "utc", "domain": [{"year": 2015, "month": 1, "date": 1, "utc": true}, {"year": 2018, "month": 3, "date": 6, "utc": true}]}, "axis": {"values": [{"year": 2015, "month": 1, "date": 1, "utc": true}, {"year": 2016, "month": 1, "date": 1, "utc": true}, {"year": 2017, "month": 1, "date": 1, "utc": true}, {"year": 2018, "month": 1, "date": 1, "utc": true}], "format": "%Y", "title": null}},
   "y": {"field": "v", "type": "quantitative", "scale": {"domain": [1.9, 61.9], "nice": false, "zero": false}, "axis": {"values": [20, 40, 60], "title": null}},
   "strokeDash": {"field": "s", "type": "nominal", "scale": {"domain": ["majutusandmed", "mobiilpositsioneerimise andmed"], "range": [[0.1, 6.5], [1, 0]]}},
   "strokeWidth": {"field": "s", "type": "nominal", "scale": {"domain": ["majutusandmed", "mobiilpositsioneerimise andmed"], "range": [2.6, 1.2]}},
   "color": {"field": "s", "type": "nominal", "scale": {"domain": ["majutusandmed", "mobiilpositsioneerimise andmed"], "range": ["#000000", "#3a3a3a"]}}
  }},
 {"title": "Soome", "width": 288, "height": 171,
  "transform": [{"filter": {"field": "p", "equal": "Soome"}}],
  "mark": {"type": "line", "strokeCap": "round", "strokeJoin": "round"},
  "encoding": {
   "x": {"field": "d", "type": "temporal", "scale": {"type": "utc", "domain": [{"year": 2015, "month": 1, "date": 1, "utc": true}, {"year": 2018, "month": 3, "date": 6, "utc": true}]}, "axis": {"values": [{"year": 2015, "month": 1, "date": 1, "utc": true}, {"year": 2016, "month": 1, "date": 1, "utc": true}, {"year": 2017, "month": 1, "date": 1, "utc": true}, {"year": 2018, "month": 1, "date": 1, "utc": true}], "format": "%Y", "title": null}},
   "y": {"field": "v", "type": "quantitative", "scale": {"domain": [40, 418], "nice": false, "zero": false}, "axis": {"values": [100, 200, 300, 400], "title": null}},
   "strokeDash": {"field": "s", "type": "nominal", "scale": {"domain": ["majutusandmed", "mobiilpositsioneerimise andmed"], "range": [[0.1, 6.5], [1, 0]]}},
   "strokeWidth": {"field": "s", "type": "nominal", "scale": {"domain": ["majutusandmed", "mobiilpositsioneerimise andmed"], "range": [2.6, 1.2]}},
   "color": {"field": "s", "type": "nominal", "scale": {"domain": ["majutusandmed", "mobiilpositsioneerimise andmed"], "range": ["#000000", "#3a3a3a"]}}
  }},
 {"title": "Norra", "width": 288, "height": 171,
  "transform": [{"filter": {"field": "p", "equal": "Norra"}}],
  "mark": {"type": "line", "strokeCap": "round", "strokeJoin": "round"},
  "encoding": {
   "x": {"field": "d", "type": "temporal", "scale": {"type": "utc", "domain": [{"year": 2015, "month": 1, "date": 1, "utc": true}, {"year": 2018, "month": 3, "date": 6, "utc": true}]}, "axis": {"values": [{"year": 2015, "month": 1, "date": 1, "utc": true}, {"year": 2016, "month": 1, "date": 1, "utc": true}, {"year": 2017, "month": 1, "date": 1, "utc": true}, {"year": 2018, "month": 1, "date": 1, "utc": true}], "format": "%Y", "title": null}},
   "y": {"field": "v", "type": "quantitative", "scale": {"domain": [2.2, 27.7], "nice": false, "zero": false}, "axis": {"values": [10, 20], "title": "Ööbimiste arv, tuh", "titlePadding": 18}},
   "strokeDash": {"field": "s", "type": "nominal", "scale": {"domain": ["majutusandmed", "mobiilpositsioneerimise andmed"], "range": [[0.1, 6.5], [1, 0]]}},
   "strokeWidth": {"field": "s", "type": "nominal", "scale": {"domain": ["majutusandmed", "mobiilpositsioneerimise andmed"], "range": [2.6, 1.2]}},
   "color": {"field": "s", "type": "nominal", "scale": {"domain": ["majutusandmed", "mobiilpositsioneerimise andmed"], "range": ["#000000", "#3a3a3a"]}}
  }},
 {"title": "Venemaa", "width": 288, "height": 171,
  "transform": [{"filter": {"field": "p", "equal": "Venemaa"}}],
  "mark": {"type": "line", "strokeCap": "round", "strokeJoin": "round"},
  "encoding": {
   "x": {"field": "d", "type": "temporal", "scale": {"type": "utc", "domain": [{"year": 2015, "month": 1, "date": 1, "utc": true}, {"year": 2018, "month": 3, "date": 6, "utc": true}]}, "axis": {"values": [{"year": 2015, "month": 1, "date": 1, "utc": true}, {"year": 2016, "month": 1, "date": 1, "utc": true}, {"year": 2017, "month": 1, "date": 1, "utc": true}, {"year": 2018, "month": 1, "date": 1, "utc": true}], "format": "%Y", "title": null}},
   "y": {"field": "v", "type": "quantitative", "scale": {"domain": [9.7, 87.6], "nice": false, "zero": false}, "axis": {"values": [20, 40, 60, 80], "title": null}},
   "strokeDash": {"field": "s", "type": "nominal", "scale": {"domain": ["majutusandmed", "mobiilpositsioneerimise andmed"], "range": [[0.1, 6.5], [1, 0]]}},
   "strokeWidth": {"field": "s", "type": "nominal", "scale": {"domain": ["majutusandmed", "mobiilpositsioneerimise andmed"], "range": [2.6, 1.2]}},
   "color": {"field": "s", "type": "nominal", "scale": {"domain": ["majutusandmed", "mobiilpositsioneerimise andmed"], "range": ["#000000", "#3a3a3a"]}}
  }},
 {"title": "Rootsi", "width": 288, "height": 171,
  "transform": [{"filter": {"field": "p", "equal": "Rootsi"}}],
  "mark": {"type": "line", "strokeCap": "round", "strokeJoin": "round"},
  "encoding": {
   "x": {"field": "d", "type": "temporal", "scale": {"type": "utc", "domain": [{"year": 2015, "month": 1, "date": 1, "utc": true}, {"year": 2018, "month": 3, "date": 6, "utc": true}]}, "axis": {"values": [{"year": 2015, "month": 1, "date": 1, "utc": true}, {"year": 2016, "month": 1, "date": 1, "utc": true}, {"year": 2017, "month": 1, "date": 1, "utc": true}, {"year": 2018, "month": 1, "date": 1, "utc": true}], "format": "%Y", "title": null}},
   "y": {"field": "v", "type": "quantitative", "scale": {"domain": [3.3, 32.9], "nice": false, "zero": false}, "axis": {"values": [10, 20, 30], "title": null}},
   "strokeDash": {"field": "s", "type": "nominal", "scale": {"domain": ["majutusandmed", "mobiilpositsioneerimise andmed"], "range": [[0.1, 6.5], [1, 0]]}},
   "strokeWidth": {"field": "s", "type": "nominal", "scale": {"domain": ["majutusandmed", "mobiilpositsioneerimise andmed"], "range": [2.6, 1.2]}},
   "color": {"field": "s", "type": "nominal", "scale": {"domain": ["majutusandmed", "mobiilpositsioneerimise andmed"], "range": ["#000000", "#3a3a3a"]}}
  }},
 {"title": "Läti", "width": 288, "height": 171,
  "transform": [{"filter": {"field": "p", "equal": "Läti"}}],
  "mark": {"type": "line", "strokeCap": "round", "strokeJoin": "round"},
  "encoding": {
   "x": {"field": "d", "type": "temporal", "scale": {"type": "utc", "domain": [{"year": 2015, "month": 1, "date": 1, "utc": true}, {"year": 2018, "month": 3, "date": 6, "utc": true}]}, "axis": {"values": [{"year": 2015, "month": 1, "date": 1, "utc": true}, {"year": 2016, "month": 1, "date": 1, "utc": true}, {"year": 2017, "month": 1, "date": 1, "utc": true}, {"year": 2018, "month": 1, "date": 1, "utc": true}], "format": "%Y", "title": null}},
   "y": {"field": "v", "type": "quantitative", "scale": {"domain": [5.9, 45], "nice": false, "zero": false}, "axis": {"values": [10, 20, 30, 40], "title": null}},
   "strokeDash": {"field": "s", "type": "nominal", "scale": {"domain": ["majutusandmed", "mobiilpositsioneerimise andmed"], "range": [[0.1, 6.5], [1, 0]]}},
   "strokeWidth": {"field": "s", "type": "nominal", "scale": {"domain": ["majutusandmed", "mobiilpositsioneerimise andmed"], "range": [2.6, 1.2]}},
   "color": {"field": "s", "type": "nominal", "scale": {"domain": ["majutusandmed", "mobiilpositsioneerimise andmed"], "range": ["#000000", "#3a3a3a"]}}
  }}
]
}
